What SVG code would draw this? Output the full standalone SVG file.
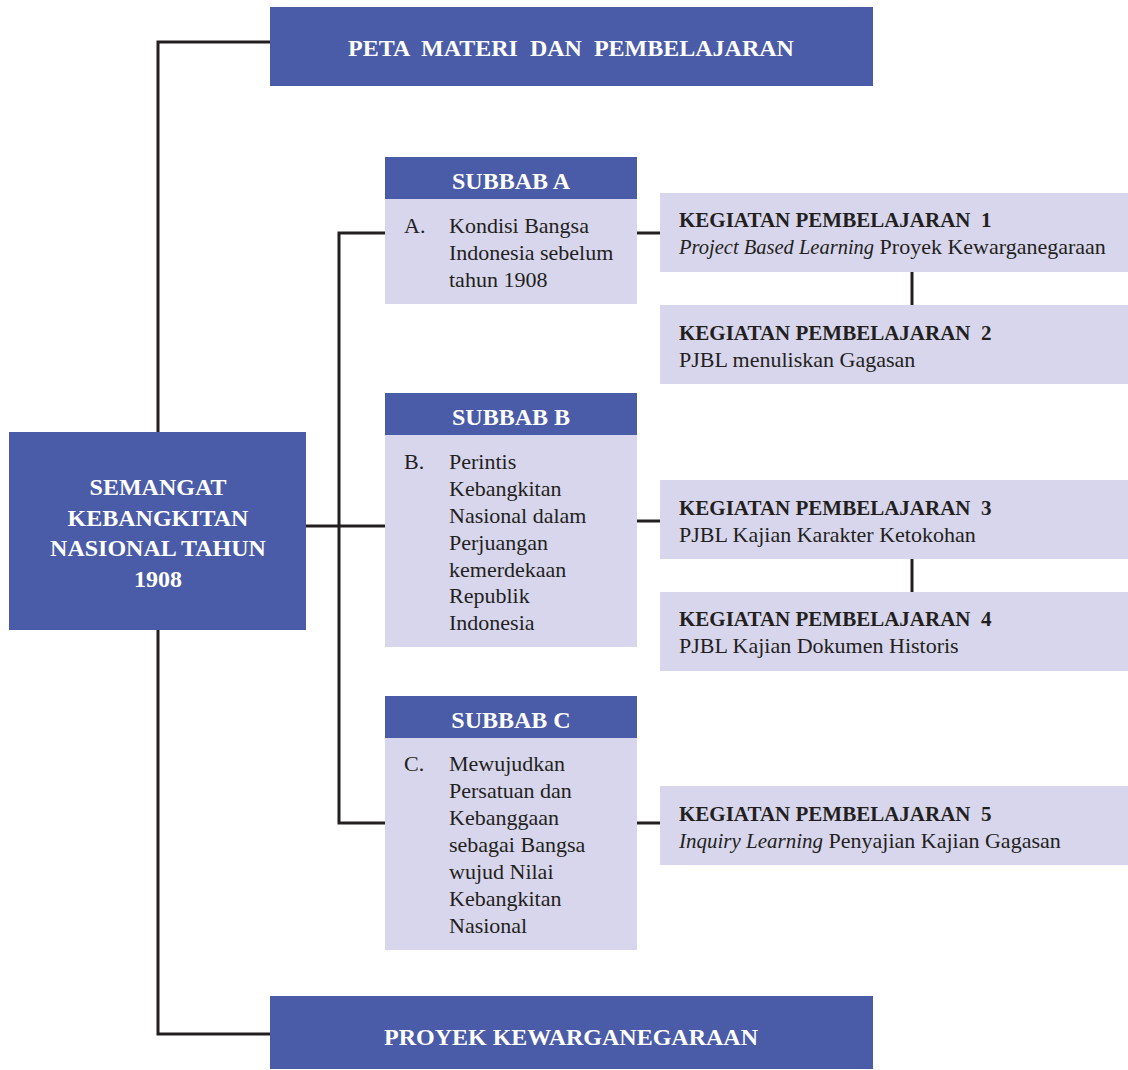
<svg xmlns="http://www.w3.org/2000/svg" width="1128" height="1070" viewBox="0 0 1128 1070">
<style>
.blue{fill:#4A5BA8}
.lav{fill:#D8D6EC}
.wt{fill:#FFFFFF;font-family:"Liberation Serif",serif;font-weight:bold;text-anchor:middle;font-size:24px}
.bt{fill:#231F20;font-family:"Liberation Serif",serif;font-size:22px}
.bb{fill:#231F20;font-family:"Liberation Serif",serif;font-size:21px;font-weight:bold}
.ln{fill:none;stroke:#231F20;stroke-width:3}
</style>
<rect width="1128" height="1070" fill="#FFFFFF"/>
<g id="connectors">
<polyline class="ln" points="270,42 158,42 158,432"/>
<polyline class="ln" points="158,630 158,1034 270,1034"/>
<line class="ln" x1="306" y1="526" x2="385" y2="526"/>
<polyline class="ln" points="385,233 339,233 339,823 385,823"/>
<line class="ln" x1="637" y1="233" x2="660" y2="233"/>
<line class="ln" x1="637" y1="521" x2="660" y2="521"/>
<line class="ln" x1="637" y1="823" x2="660" y2="823"/>
<line class="ln" x1="912" y1="272" x2="912" y2="305"/>
<line class="ln" x1="912" y1="559" x2="912" y2="592"/>
</g>
<g id="peta">
<rect class="blue" x="270" y="7" width="603" height="79"/>
<text class="wt" x="571" y="56" xml:space="preserve">PETA  MATERI  DAN  PEMBELAJARAN</text>
</g>
<g id="main">
<rect class="blue" x="9" y="432" width="297" height="198"/>
<text class="wt" x="158" y="495">SEMANGAT</text>
<text class="wt" x="158" y="526">KEBANGKITAN</text>
<text class="wt" x="158" y="556">NASIONAL TAHUN</text>
<text class="wt" x="158" y="587">1908</text>
</g>
<g id="proyek">
<rect class="blue" x="270" y="996" width="603" height="73"/>
<text class="wt" x="571" y="1045">PROYEK KEWARGANEGARAAN</text>
</g>
<g id="subbabA">
<rect class="blue" x="385" y="157" width="252" height="42"/>
<rect class="lav" x="385" y="199" width="252" height="105"/>
<text class="wt" x="511" y="189">SUBBAB A</text>
<text class="bt" x="404" y="233">A.</text>
<text class="bt" x="449" y="233">Kondisi Bangsa</text>
<text class="bt" x="449" y="260">Indonesia sebelum</text>
<text class="bt" x="449" y="287">tahun 1908</text>
</g>
<g id="subbabB">
<rect class="blue" x="385" y="393" width="252" height="42"/>
<rect class="lav" x="385" y="435" width="252" height="212"/>
<text class="wt" x="511" y="425">SUBBAB B</text>
<text class="bt" x="404" y="469">B.</text>
<text class="bt" x="449" y="469">Perintis</text>
<text class="bt" x="449" y="496">Kebangkitan</text>
<text class="bt" x="449" y="523">Nasional dalam</text>
<text class="bt" x="449" y="550">Perjuangan</text>
<text class="bt" x="449" y="577">kemerdekaan</text>
<text class="bt" x="449" y="603">Republik</text>
<text class="bt" x="449" y="630">Indonesia</text>
</g>
<g id="subbabC">
<rect class="blue" x="385" y="696" width="252" height="42"/>
<rect class="lav" x="385" y="738" width="252" height="212"/>
<text class="wt" x="511" y="728">SUBBAB C</text>
<text class="bt" x="404" y="771">C.</text>
<text class="bt" x="449" y="771">Mewujudkan</text>
<text class="bt" x="449" y="798">Persatuan dan</text>
<text class="bt" x="449" y="825">Kebanggaan</text>
<text class="bt" x="449" y="852">sebagai Bangsa</text>
<text class="bt" x="449" y="879">wujud Nilai</text>
<text class="bt" x="449" y="906">Kebangkitan</text>
<text class="bt" x="449" y="933">Nasional</text>
</g>
<g id="kp1">
<rect class="lav" x="660" y="193" width="468" height="79"/>
<text class="bb" x="679" y="227" xml:space="preserve">KEGIATAN PEMBELAJARAN  1</text>
<text class="bt" x="679" y="254"><tspan font-style="italic" font-size="20.5">Project Based Learning</tspan> Proyek Kewarganegaraan</text>
</g>
<g id="kp2">
<rect class="lav" x="660" y="305" width="468" height="79"/>
<text class="bb" x="679" y="340" xml:space="preserve">KEGIATAN PEMBELAJARAN  2</text>
<text class="bt" x="679" y="367">PJBL menuliskan Gagasan</text>
</g>
<g id="kp3">
<rect class="lav" x="660" y="480" width="468" height="79"/>
<text class="bb" x="679" y="515" xml:space="preserve">KEGIATAN PEMBELAJARAN  3</text>
<text class="bt" x="679" y="542">PJBL Kajian Karakter Ketokohan</text>
</g>
<g id="kp4">
<rect class="lav" x="660" y="592" width="468" height="79"/>
<text class="bb" x="679" y="626" xml:space="preserve">KEGIATAN PEMBELAJARAN  4</text>
<text class="bt" x="679" y="653">PJBL Kajian Dokumen Historis</text>
</g>
<g id="kp5">
<rect class="lav" x="660" y="786" width="468" height="79"/>
<text class="bb" x="679" y="821" xml:space="preserve">KEGIATAN PEMBELAJARAN  5</text>
<text class="bt" x="679" y="848"><tspan font-style="italic" font-size="21">Inquiry Learning</tspan> Penyajian Kajian Gagasan</text>
</g>
</svg>
